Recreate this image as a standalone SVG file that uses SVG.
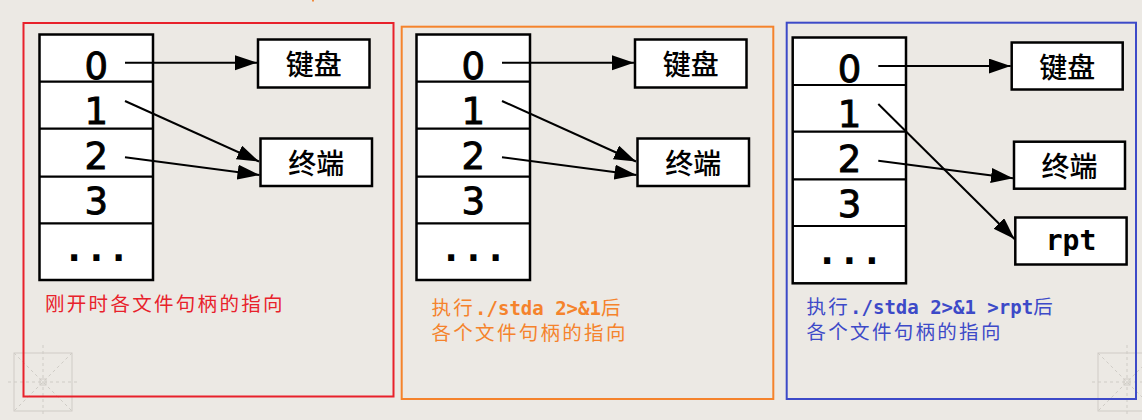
<svg xmlns="http://www.w3.org/2000/svg" width="1142" height="420" viewBox="0 0 1142 420">
<defs>
<marker id="ah" markerUnits="userSpaceOnUse" markerWidth="23" markerHeight="16" refX="22" refY="7.5" orient="auto">
<path d="M0,0 L22,7.5 L0,15 z" fill="#000"/>
</marker>
<style>
.bg{fill:#ece9e4}
.tbl{fill:#fff;stroke:#000;stroke-width:2.5}
.sep{stroke:#000;stroke-width:2.2;fill:none}
.box{fill:#fff;stroke:#000;stroke-width:2.5}
.dig{font-family:"DejaVu Sans",sans-serif;font-size:37px;text-anchor:middle;fill:#000;stroke:#000;stroke-width:0.9}
.dots{font-family:"DejaVu Sans Mono",monospace;font-weight:bold;font-size:37px;text-anchor:middle;fill:#000}
.cjk{font-family:"Noto Sans CJK SC",sans-serif;font-weight:500;font-size:28px;text-anchor:middle;dominant-baseline:central;fill:#000}
.mono{font-family:"DejaVu Sans Mono","Liberation Mono",monospace;font-weight:bold;font-size:28px;text-anchor:middle;dominant-baseline:central;fill:#000}
.con{stroke:#000;stroke-width:2;fill:none;marker-end:url(#ah)}
.cap{font-family:"Liberation Sans","Noto Sans CJK SC",sans-serif;font-size:19.5px;letter-spacing:2.3px}
.capm{font-family:"DejaVu Sans Mono","Liberation Mono",monospace;font-weight:bold;font-size:19px}
.red{fill:#e8212b}
.org{fill:#f5832c}
.blu{fill:#3d4ac8}
.mark{stroke:#cfccc6;stroke-width:1;fill:none}
</style>
</defs>
<rect class="bg" x="0" y="0" width="1142" height="420"/>
<rect x="312" y="0" width="2" height="1.5" fill="#f08a3c"/>

<g id="marks">
<rect class="mark" x="14" y="353" width="58" height="58"/>
<path class="mark" d="M14,353 L72,411 M72,353 L14,411 M43,345 L43,416 M8,382 L78,382" stroke-dasharray="3,3"/>
<rect class="mark" x="40" y="379" width="6" height="6"/>
<rect class="mark" x="1098" y="353" width="58" height="58"/>
<path class="mark" d="M1098,353 L1156,411 M1156,353 L1098,411 M1127,345 L1127,416 M1092,382 L1142,382" stroke-dasharray="3,3"/>
<rect class="mark" x="1124" y="379" width="6" height="6"/>
</g>

<!-- Panel 1 -->
<g id="panel1">
<rect x="23.5" y="23" width="370" height="373.5" fill="none" stroke="#e8212b" stroke-width="2"/>
<text class="cap red" x="45" y="311">刚开时各文件句柄的指向</text>
</g>
<g id="p1-fdtable">
<rect class="tbl" x="39.5" y="34.5" width="113.5" height="245.5"/>
<path class="sep" d="M39.5,81.7 H153 M39.5,128.7 H153 M39.5,176.7 H153 M39.5,223.3 H153"/>
<text class="dig" x="96.3" y="79">0</text>
<text class="dig" x="96.3" y="124">1</text>
<text class="dig" x="96.3" y="169.3">2</text>
<text class="dig" x="96.3" y="214.3">3</text>
<text class="dots" x="96.3" y="261">...</text>
</g>
<g id="p1-keyboard">
<rect class="box" x="258" y="39.5" width="111.5" height="48"/>
<text class="cjk" x="313.7" y="63">键盘</text>
</g>
<g id="p1-terminal">
<rect class="box" x="260.5" y="138.5" width="111.5" height="47.5"/>
<text class="cjk" x="316.2" y="162">终端</text>
</g>

<!-- Panel 2 -->
<g id="panel2">
<rect x="401.7" y="26.7" width="371.6" height="372.3" fill="none" stroke="#f5832c" stroke-width="2"/>
<text class="cap org" x="431.5" y="315">执行</text>
<text class="capm org" x="475.1" y="315">./stda 2&gt;&amp;1</text>
<text class="cap org" x="601" y="315">后</text>
<text class="cap org" x="431.5" y="339.5">各个文件句柄的指向</text>
</g>
<g id="p2-fdtable">
<rect class="tbl" x="416.5" y="34.5" width="113.5" height="245.5"/>
<path class="sep" d="M416.5,81.7 H530 M416.5,128.7 H530 M416.5,176.7 H530 M416.5,223.3 H530"/>
<text class="dig" x="473.3" y="79">0</text>
<text class="dig" x="473.3" y="124">1</text>
<text class="dig" x="473.3" y="169.3">2</text>
<text class="dig" x="473.3" y="214.3">3</text>
<text class="dots" x="473.3" y="261">...</text>
</g>
<g id="p2-keyboard">
<rect class="box" x="635" y="39.5" width="111.5" height="48"/>
<text class="cjk" x="690.7" y="63">键盘</text>
</g>
<g id="p2-terminal">
<rect class="box" x="637.5" y="138.5" width="111.5" height="47.5"/>
<text class="cjk" x="693.2" y="162">终端</text>
</g>

<!-- Panel 3 -->
<g id="panel3">
<rect x="786.7" y="22.7" width="349.3" height="376.3" fill="none" stroke="#3d4ac8" stroke-width="2"/>
<text class="cap blu" x="806.5" y="314">执行</text>
<text class="capm blu" x="850.1" y="314">./stda 2&gt;&amp;1 &gt;rpt</text>
<text class="cap blu" x="1033.2" y="314">后</text>
<text class="cap blu" x="806.5" y="338.5">各个文件句柄的指向</text>
</g>
<g id="p3-fdtable">
<rect class="tbl" x="792.7" y="37.5" width="113.3" height="245.8"/>
<path class="sep" d="M792.7,85 H906 M792.7,131.7 H906 M792.7,179.3 H906 M792.7,226 H906"/>
<text class="dig" x="849.5" y="82">0</text>
<text class="dig" x="849.5" y="127">1</text>
<text class="dig" x="849.5" y="172.3">2</text>
<text class="dig" x="849.5" y="217.3">3</text>
<text class="dots" x="849.5" y="264">...</text>
</g>
<g id="p3-keyboard">
<rect class="box" x="1011.7" y="42.5" width="111" height="47"/>
<text class="cjk" x="1067.2" y="66">键盘</text>
</g>
<g id="p3-terminal">
<rect class="box" x="1014" y="141.7" width="111" height="47"/>
<text class="cjk" x="1069.5" y="165.2">终端</text>
</g>
<g id="p3-rpt">
<rect class="box" x="1015.3" y="217.5" width="111.3" height="47"/>
<text class="mono" x="1071" y="240">rpt</text>
</g>

<g id="connectors">
<line class="con" x1="125" y1="62.7" x2="257" y2="62.7"/>
<line class="con" x1="125" y1="101" x2="259" y2="161.5"/>
<line class="con" x1="125" y1="157.3" x2="259.5" y2="175"/>
<line class="con" x1="502" y1="62.7" x2="634" y2="62.7"/>
<line class="con" x1="502" y1="101" x2="636" y2="161.5"/>
<line class="con" x1="502" y1="157.3" x2="636.5" y2="175"/>
<line class="con" x1="878.3" y1="66" x2="1010.7" y2="66"/>
<line class="con" x1="878.3" y1="104" x2="1014.5" y2="239"/>
<line class="con" x1="878.3" y1="160.7" x2="1013" y2="178.3"/>
</g>
</svg>
